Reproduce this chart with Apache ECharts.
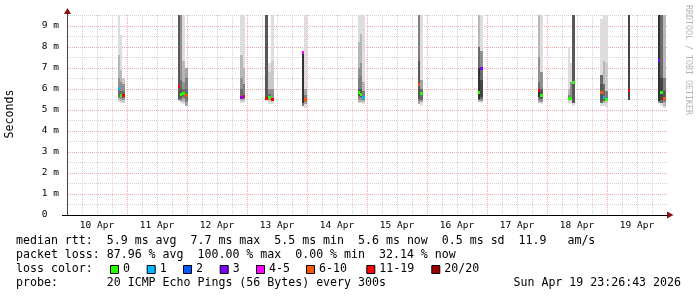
<!DOCTYPE html>
<html><head><meta charset="utf-8">
<script src="https://cdn.jsdelivr.net/npm/echarts@6/dist/echarts.min.js"></script>
<style>html,body{margin:0;padding:0;background:#fff}#c{width:697px;height:297px}</style>
</head><body><div id="c"></div>
<script>
// ---- data (hours counted from 10 Apr 00:00, values in ms) ----
const dayLabels = ['10 Apr','11 Apr','12 Apr','13 Apr','14 Apr','15 Apr','16 Apr','17 Apr','18 Apr','19 Apr'];
const slotStart = [20.4,21.2,22.0, 44.4,45.2,46.0,47.2, 69.2,70.4, 79.2,80.4,81.6, 94.0,94.8,
  116.4,117.2,118.0, 140.4,141.2, 164.4,165.2, 188.4,189.2, 200.4,201.2,202.0,
  213.2,214.4,215.2, 224.4, 236.4,237.2,238.4];
const slotHours = [0.8,0.8,1.2, 0.8,0.8,1.2,1.2, 1.2,0.8, 1.2,1.2,1.2, 0.8,1.2,
  0.8,0.8,1.2, 0.8,1.2, 0.8,1.2, 0.8,1.2, 0.8,0.8,1.2,
  1.2,0.8,1.2, 0.8, 0.8,1.2,1.2];
const medianMs = [6.05,5.70,5.72, 6.15,5.75,5.80,5.68, 5.62,5.65, 5.57,5.60,5.50, 7.72,5.52,
  5.82,5.75,5.62, 6.24,5.80, 5.86,6.97, 5.95,5.72, 5.56,5.55,6.32,
  5.82,5.60,5.53, 5.94, 7.35,5.83,5.57];
// index into lossNames
const lossClass = [1,0,6, 6,0,0,5, 3,6, 6,0,6, 4,5, 0,0,1, 5,0, 0,3, 6,0, 0,0,0, 5,1,0, 6, 3,0,5];
// smoke: per slot, ping pairs [low, high, pairRank(1=outermost..10=innermost)]
const smokeBands = [
  [[5.35,9.6,1],[5.45,7.6,3],[5.55,6.5,5],[5.6,6.1,7]],
  [[5.3,8.57,1],[5.4,6.9,3],[5.5,6.3,5],[5.6,5.9,7]],
  [[5.3,6.5,2],[5.45,6.2,5],[5.55,5.9,7]],
  [[5.4,9.6,1],[5.45,9.6,7],[5.5,9.6,8]],
  [[5.3,9.6,1],[5.4,9.6,5],[5.5,6.4,7],[5.6,6.0,8]],
  [[5.25,9.6,1],[5.35,7.3,3],[5.5,6.3,5],[5.6,6.0,7]],
  [[5.2,7.0,4],[5.35,6.5,6],[5.5,6.0,7]],
  [[5.3,9.6,1],[5.4,7.6,3],[5.5,6.5,5],[5.55,6.0,7]],
  [[5.3,9.6,1],[5.4,7.0,3],[5.5,6.2,6]],
  [[5.4,9.6,1],[5.45,9.6,8]],
  [[5.25,7.2,1],[5.35,6.8,2],[5.45,6.0,5],[5.5,5.75,7]],
  [[5.25,9.6,1],[5.35,7.3,2],[5.45,6.0,5]],
  [[5.2,7.72,6],[5.3,7.72,10]],
  [[5.1,9.6,1],[5.25,6.0,4],[5.35,5.7,6]],
  [[5.3,9.6,1],[5.35,8.2,3],[5.45,7.0,5],[5.55,6.5,6],[5.65,6.0,8]],
  [[5.3,9.6,1],[5.35,8.6,3],[5.45,7.2,5],[5.55,6.6,6],[5.6,6.0,8]],
  [[5.25,9.6,1],[5.35,6.3,3],[5.45,5.9,6]],
  [[5.25,9.6,4],[5.4,9.6,6],[5.5,7.3,8]],
  [[5.2,9.6,1],[5.35,6.4,4],[5.45,6.0,7]],
  [[5.35,9.6,3],[5.45,8.0,7],[5.5,7.0,10]],
  [[5.3,9.6,1],[5.4,7.8,5],[5.5,7.0,7],[5.6,6.4,9]],
  [[5.3,9.6,3],[5.4,7.5,5],[5.5,6.3,7],[5.6,6.0,10]],
  [[5.25,9.6,1],[5.35,6.8,5],[5.5,6.0,8]],
  [[5.3,8.0,1],[5.4,6.0,3],[5.5,5.7,6]],
  [[5.3,7.2,1],[5.45,6.3,5]],
  [[5.2,9.6,1],[5.3,9.6,8]],
  [[5.2,9.3,1],[5.3,6.67,7],[5.4,6.2,8]],
  [[5.2,9.6,1],[5.3,7.3,3],[5.4,6.2,7]],
  [[5.15,9.6,1],[5.3,7.2,2],[5.45,5.9,6]],
  [[5.48,9.6,9]],
  [[5.3,9.6,5],[5.4,9.6,10]],
  [[5.2,9.6,1],[5.3,9.6,7],[5.45,6.5,9]],
  [[5.1,9.6,1],[5.2,9.6,3],[5.35,6.5,6],[5.45,5.9,8]]
];
const lossNames = ['0','1','2','3','4-5','6-10','11-19','20/20'];
const lossColors = ['#26ff00','#00b8ff','#0059ff','#7e00ff','#ff00ff','#ff5500','#ff0000','#a10000'];
// grid positions (tick values)
const gridHoursMinor = [6,12,18,30,36,42,54,60,66,78,84,90,102,108,114,126,132,138,150,156,162,174,180,186,198,204,210,222,228,234];
const gridHoursMajor = [24,48,72,96,120,144,168,192,216];
const gridMsMinor = [0.5,1.5,2.5,3.5,4.5,5.5,6.5,7.5,8.5,9.5];
const gridMsMajor = [1,2,3,4,5,6,7,8,9];
const statsLines = [
  'median rtt:  5.9 ms avg  7.7 ms max  5.5 ms min  5.6 ms now  0.5 ms sd  11.9   am/s',
  'packet loss: 87.96 % avg  100.00 % max  0.00 % min  32.14 % now',
  'loss color:',
  'probe:       20 ICMP Echo Pings (56 Bytes) every 300s'
];
const stampText = 'Sun Apr 19 23:26:43 2026';
const yTitle = 'Seconds';
const sideText = 'RRDTOOL / TOBI OETIKER';

// ---- build series data ----
const smokeData = [];
slotStart.forEach((s, i) => {
  smokeBands[i].forEach(b => smokeData.push([s, s + slotHours[i], b[0], b[1], b[2]]));
});
const medianData = slotStart.map((s, i) => [s, s + slotHours[i], medianMs[i], lossClass[i]]);
const vGridData = gridHoursMinor.map(h => [h, 0]).concat(gridHoursMajor.map(h => [h, 1]));
const hGridData = gridMsMinor.map(v => [0, v, 0]).concat(gridMsMajor.map(v => [0, v, 1]));

const MONO = 'DejaVu Sans Mono';
const gridMajor = '#eeaaaa';
const gridMinor = '#d2d2d2';

function renderSmoke(params, api) {
  const cs = params.coordSys;
  const p0 = api.coord([api.value(0), api.value(2)]);
  const p1 = api.coord([api.value(1), api.value(3)]);
  const x = Math.round(p0[0]), x2 = Math.round(p1[0]);
  let yTop = Math.max(Math.round(p1[1]), cs.y);
  let yBot = Math.min(Math.round(p0[1]), cs.y + cs.height);
  if (yBot <= yTop) return null;
  const g = 19 * (10 - api.value(4)) + 50;
  return { type: 'rect', shape: { x: x, y: yTop, width: x2 - x, height: yBot - yTop },
    style: { fill: 'rgb(' + g + ',' + g + ',' + g + ')' } };
}
function renderMedian(params, api) {
  const p0 = api.coord([api.value(0), api.value(2)]);
  const p1 = api.coord([api.value(1), api.value(2)]);
  const x = Math.round(p0[0]), x2 = Math.round(p1[0]);
  const y = Math.round(p0[1]) - 1;
  return { type: 'rect', shape: { x: x, y: y, width: x2 - x, height: 3 },
    style: { fill: lossColors[api.value(3)] } };
}
function renderVGrid(params, api) {
  const cs = params.coordSys;
  const x = Math.round(api.coord([api.value(0), 0])[0]) + 0.5;
  return { type: 'line', z2: api.value(1) ? 2 : 1,
    shape: { x1: x, y1: cs.y, x2: x, y2: cs.y + cs.height },
    style: { stroke: api.value(1) ? gridMajor : gridMinor, lineWidth: 1, lineDash: [1, 1] } };
}
function renderHGrid(params, api) {
  const cs = params.coordSys;
  const y = Math.round(api.coord([0, api.value(1)])[1]) + 0.5;
  return { type: 'line', z2: api.value(2) ? 2 : 1,
    shape: { x1: cs.x + 1, y1: y, x2: cs.x + cs.width, y2: y },
    style: { stroke: api.value(2) ? gridMajor : gridMinor, lineWidth: 1, lineDash: [1, 1] } };
}

const graphics = [];
const lineY = [241, 255, 269, 283];
statsLines.forEach((t, i) => graphics.push({ type: 'text', x: 16, y: lineY[i],
  style: { text: t, font: '11.6px "DejaVu Sans Mono"', fill: '#000', textVerticalAlign: 'middle' } }));
const legendX = [110, 146.7, 183, 219.7, 256, 306, 366.3, 431.3];
lossNames.forEach((n, i) => {
  graphics.push({ type: 'rect', shape: { x: legendX[i] + 0.5, y: 265.5, width: 8, height: 8 },
    style: { fill: lossColors[i], stroke: '#000', lineWidth: 1 } });
  graphics.push({ type: 'text', x: legendX[i] + 13, y: 269,
    style: { text: n, font: '11.6px "DejaVu Sans Mono"', fill: '#000', textVerticalAlign: 'middle' } });
});
graphics.push({ type: 'text', x: 681, y: 283,
  style: { text: stampText, font: '11.6px "DejaVu Sans Mono"', fill: '#000', textAlign: 'right', textVerticalAlign: 'middle' } });
graphics.push({ type: 'text', x: 10, y: 114, rotation: Math.PI / 2,
  style: { text: yTitle, font: '11.6px "DejaVu Sans Mono"', fill: '#000', textAlign: 'center', textVerticalAlign: 'middle' } });
graphics.push({ type: 'text', x: 688, y: 60, rotation: -Math.PI / 2,
  style: { text: sideText, font: '8.3px "DejaVu Sans Mono"', fill: '#b4b4b4', textAlign: 'center', textVerticalAlign: 'middle' } });
graphics.push({ type: 'polygon', shape: { points: [[64, 14], [71, 14], [67.5, 8]] }, style: { fill: '#8b1010' } });
graphics.push({ type: 'line', shape: { x1: 67.5, y1: 14, x2: 67.5, y2: 16 }, style: { stroke: '#444', lineWidth: 1 } });
graphics.push({ type: 'polygon', shape: { points: [[667, 211.5], [667, 218.5], [673.5, 215]] }, style: { fill: '#8b1010' } });
graphics.push({ type: 'line', shape: { x1: 62, y1: 215.5, x2: 67, y2: 215.5 }, style: { stroke: '#000', lineWidth: 1 } });

const chart = echarts.init(document.getElementById('c'), null, { renderer: 'canvas' });
chart.setOption({
  animation: false,
  backgroundColor: '#fff',
  grid: { left: 67, top: 15, width: 600, height: 200, containLabel: false },
  xAxis: {
    type: 'value', min: 0, max: 240, interval: 6,
    axisLine: { show: true, onZero: false, lineStyle: { color: '#000', width: 1 } },
    axisTick: { show: false },
    axisLabel: {
      formatter: v => (v % 24 === 12 ? dayLabels[(v - 12) / 24] : ''),
      fontFamily: MONO, fontSize: 9.5, color: '#000', margin: 6
    },
    splitLine: { show: false }
  },
  yAxis: {
    type: 'value', min: 0, max: 9.5, interval: 0.5,
    axisLine: { show: true, lineStyle: { color: '#444', width: 1 } },
    axisTick: { show: false },
    axisLabel: {
      formatter: v => (Math.abs(v - Math.round(v)) < 1e-6 ? (v === 0 ? '0  ' : Math.round(v) + ' m') : ''),
      fontFamily: MONO, fontSize: 9.5, color: '#000', margin: 8, showMaxLabel: false
    },
    splitLine: { show: false }
  },
  series: [
    { type: 'custom', name: 'vgrid', renderItem: renderVGrid, data: vGridData, encode: { x: 0, y: 1 }, silent: true, z: 1 },
    { type: 'custom', name: 'hgrid', renderItem: renderHGrid, data: hGridData, encode: { x: 0, y: 1 }, silent: true, z: 1 },
    { type: 'custom', name: 'smoke', renderItem: renderSmoke, data: smokeData, encode: { x: [0, 1], y: [2, 3] }, silent: true, z: 2 },
    { type: 'custom', name: 'median', renderItem: renderMedian, data: medianData, encode: { x: [0, 1], y: 2 }, silent: true, z: 3 }
  ],
  graphic: graphics
});
</script>
</body></html>
